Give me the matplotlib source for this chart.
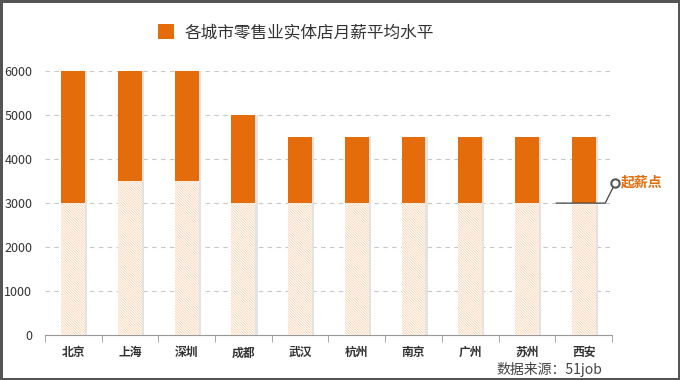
import numpy as np
import matplotlib
matplotlib.use('Agg')
import matplotlib.pyplot as plt

plt.rcParams['font.family'] = ['Noto Sans CJK SC', 'DejaVu Sans']
plt.rcParams['hatch.linewidth'] = 0.6

cities = ['北京', '上海', '深圳', '成都', '武汉', '杭州', '南京', '广州', '苏州', '西安']
start_pay = [3000, 3500, 3500, 3000, 3000, 3000, 3000, 3000, 3000, 3000]   # 起薪点
avg_pay = [6000, 6000, 6000, 5000, 4500, 4500, 4500, 4500, 4500, 4500]     # 月薪平均水平

orange = '#e46c0a'
hatch_col = '#f8d4b2'

fig = plt.figure(figsize=(6.8, 3.8), dpi=100)
fig.patch.set_edgecolor('#555555')
fig.patch.set_linewidth(2.5)
ax = fig.add_axes([0.066, 0.118, 0.834, 0.695])

x = np.arange(len(cities))
w = 0.42
top = np.array(avg_pay) - np.array(start_pay)

# soft shadow on the right side of each bar
ax.bar(x + 0.04, avg_pay, w, color='#e3e3e3', zorder=2)
ax.bar(x, start_pay, w, facecolor='white', edgecolor=hatch_col, hatch='\\' * 13,
       linewidth=0, zorder=3)
bars = ax.bar(x, top, w, bottom=start_pay, color=orange, zorder=3,
              label='各城市零售业实体店月薪平均水平')

ax.set_xlim(-0.5, len(cities) - 0.5)
ax.set_ylim(0, 6000)
ax.set_yticks(range(0, 6001, 1000))
ax.yaxis.grid(True, linestyle=(0, (4, 4)), color='#c8c8c8', linewidth=0.8)
ax.set_axisbelow(True)
for s in ['top', 'right', 'left']:
    ax.spines[s].set_visible(False)
ax.spines['bottom'].set_color('#999999')

ax.set_xticks(x)
ax.set_xticklabels(cities, fontsize=8.5, fontweight='bold', color='#333333')
ax.set_xticks(np.arange(-0.5, len(cities)), minor=True)
ax.tick_params(axis='x', which='major', length=0, pad=8)
ax.tick_params(axis='x', which='minor', length=5, color='#999999')
ax.tick_params(axis='y', length=0, labelsize=9, labelcolor='#333333', pad=9)

# legend acting as title
fig.legend(handles=[bars], loc='upper center', bbox_to_anchor=(0.435, 0.975), frameon=False,
           fontsize=12, handlelength=1.0, handleheight=1.0, handletextpad=0.6,
           labelcolor='#333333')

# 起薪点 callout on the last bar
last = len(cities) - 1
yv = start_pay[last]
ax.plot([last - 0.48, last + 0.38, last + 0.56], [yv, yv, yv + 460], color='#444444',
        linewidth=0.9, clip_on=False, zorder=5)
ax.plot([last + 0.56], [yv + 460], 'o', ms=6, mfc='white', mec='#555555', mew=1.5,
        clip_on=False, zorder=6)
ax.text(last + 0.66, yv + 460, '起薪点', color=orange, fontsize=10, fontweight='bold',
        va='center', ha='left')

fig.text(0.73, 0.017, '数据来源：51job', fontsize=10, color='#444444', ha='left')

fig.savefig('out.png', dpi=100, edgecolor=fig.get_edgecolor())
